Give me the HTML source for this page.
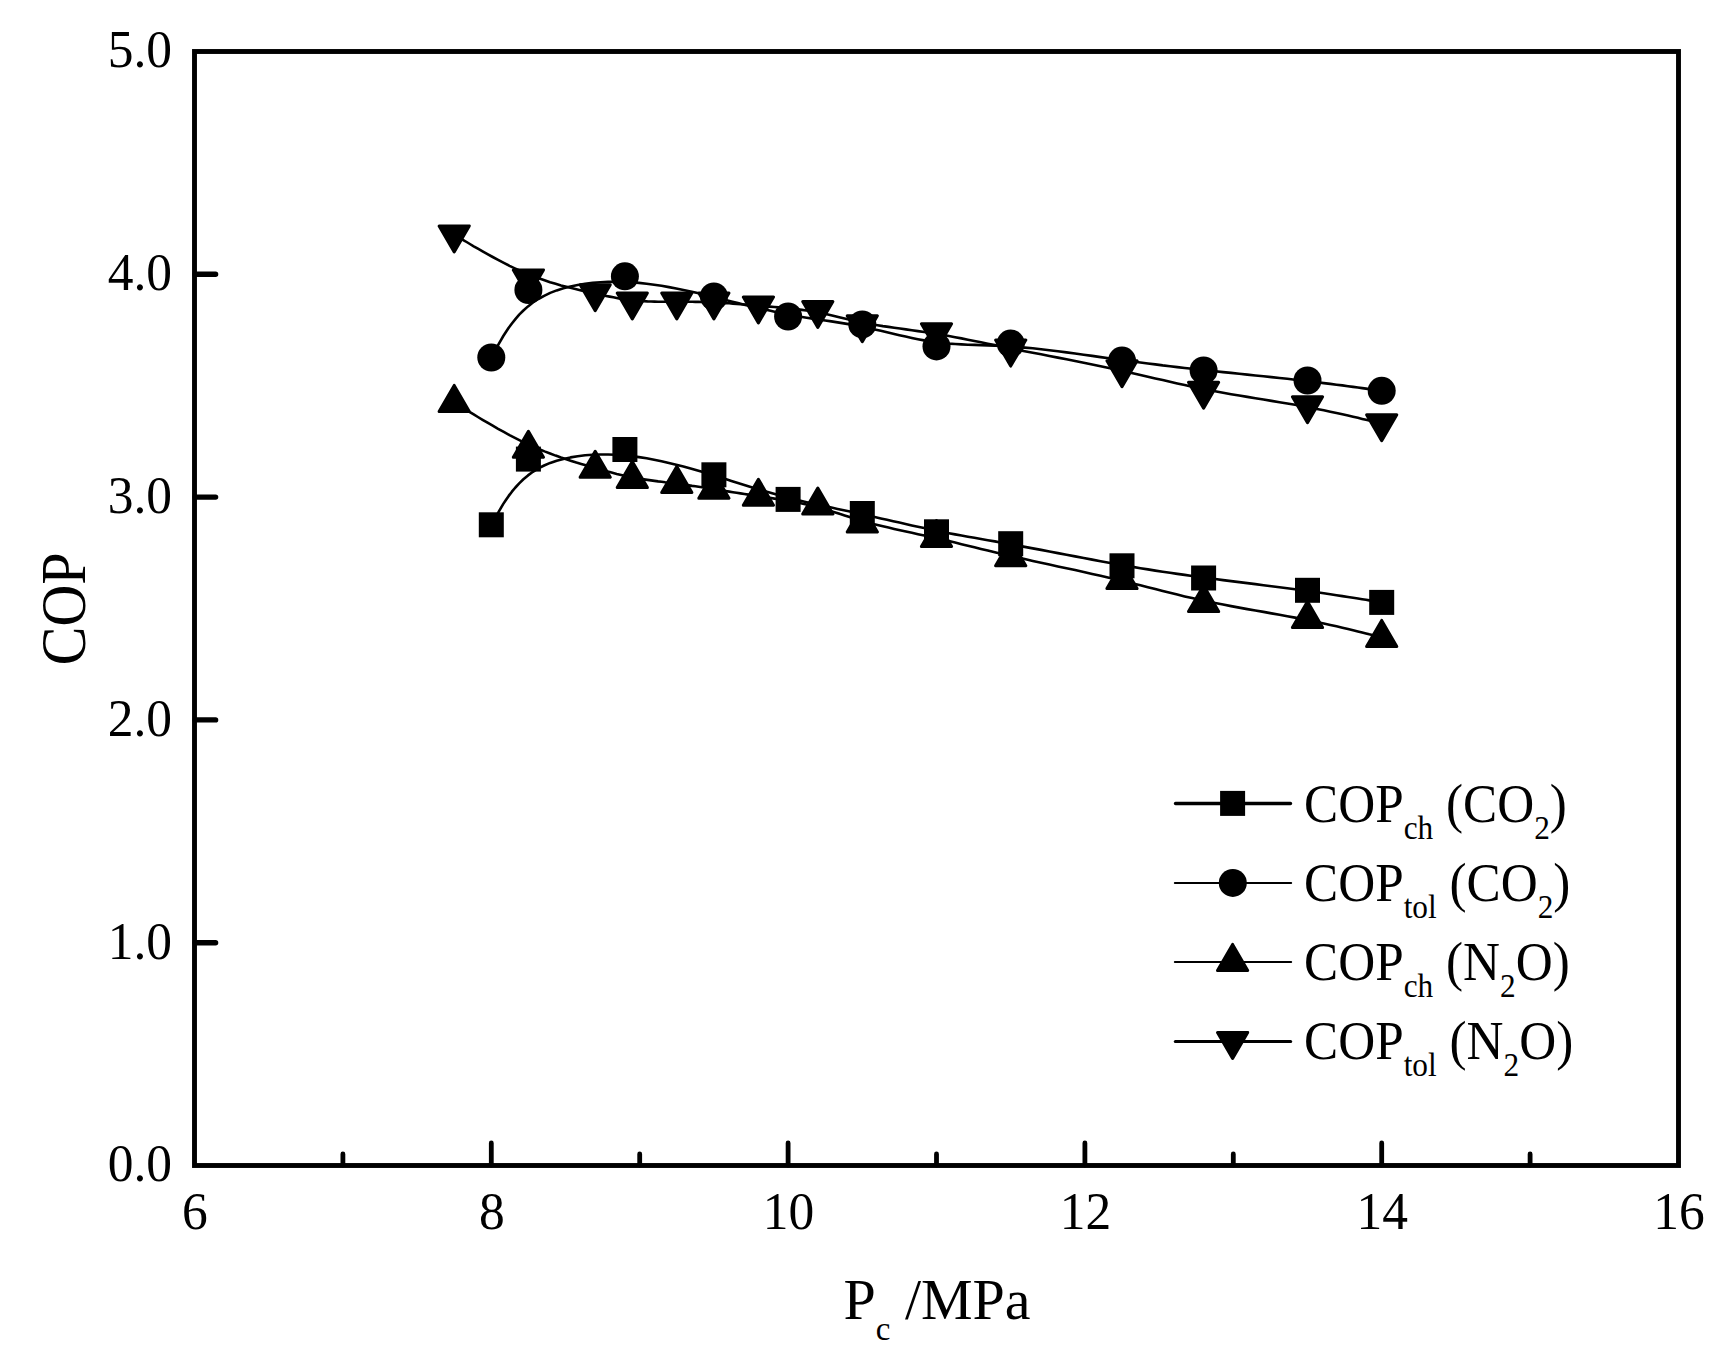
<!DOCTYPE html>
<html lang="en"><head><meta charset="utf-8"><title>COP vs Pc</title>
<style>html,body{margin:0;padding:0;background:#fff}body{width:1728px;height:1357px;overflow:hidden}svg{display:block}</style>
</head><body>
<svg width="1728" height="1357" viewBox="0 0 1728 1357">
<rect width="1728" height="1357" fill="#fff"/>
<rect x="194.50" y="51.50" width="1484.00" height="1114.00" fill="none" stroke="#000" stroke-width="4.90"/>
<path d="M342.90 1165.1 V1154.0 M491.30 1165.1 V1143.0 M639.70 1165.1 V1154.0 M788.10 1165.1 V1143.0 M936.50 1165.1 V1154.0 M1084.90 1165.1 V1143.0 M1233.30 1165.1 V1154.0 M1381.70 1165.1 V1143.0 M1530.10 1165.1 V1154.0" stroke="#000" stroke-width="4.8" stroke-linecap="round" fill="none"/>
<path d="M195.2 942.70 H215.6 M195.2 719.90 H215.6 M195.2 497.10 H215.6 M195.2 274.30 H215.6" stroke="#000" stroke-width="5.4" stroke-linecap="round" fill="none"/>
<g fill="none" stroke="#000" stroke-width="2.6" stroke-linejoin="round">
<path d="M491.3 524.8 L491.3 524.8 L491.3 524.7 L491.4 524.6 L491.5 524.4 L491.7 524.0 L492.1 523.4 L492.5 522.6 L493.1 521.6 L493.9 520.2 L494.9 518.5 L496.1 516.4 L497.5 513.8 L499.2 510.9 L501.1 507.6 L503.3 503.9 L505.9 500.0 L508.7 495.9 L511.9 491.7 L515.4 487.5 L519.2 483.4 L523.4 479.3 L528.0 475.4 L532.9 471.8 L538.3 468.4 L544.1 465.5 L550.2 462.9 L556.7 460.7 L563.4 458.9 L570.5 457.4 L577.7 456.2 L585.1 455.3 L592.7 454.8 L600.4 454.5 L608.1 454.5 L615.9 454.8 L623.6 455.3 L631.3 456.1 L639.0 457.1 L646.6 458.3 L654.1 459.7 L661.5 461.2 L668.9 462.9 L676.2 464.7 L683.4 466.5 L690.6 468.5 L697.6 470.5 L704.6 472.6 L711.4 474.7 L718.2 476.8 L724.8 478.8 L731.4 480.9 L737.9 482.9 L744.3 484.9 L750.7 486.9 L757.0 488.8 L763.3 490.7 L769.5 492.5 L775.7 494.3 L781.9 496.0 L788.1 497.6 L794.3 499.2 L800.5 500.7 L806.7 502.2 L812.8 503.6 L819.0 505.0 L825.2 506.3 L831.4 507.6 L837.6 508.9 L843.8 510.2 L849.9 511.5 L856.1 512.9 L862.3 514.2 L868.5 515.6 L874.7 517.0 L880.8 518.4 L887.0 519.8 L893.2 521.2 L899.4 522.6 L905.6 524.0 L911.8 525.4 L917.9 526.8 L924.1 528.1 L930.3 529.5 L936.5 530.7 L942.7 532.0 L948.9 533.2 L955.1 534.4 L961.5 535.5 L967.9 536.7 L974.4 537.8 L981.0 539.0 L987.8 540.2 L994.8 541.4 L1001.9 542.7 L1009.3 544.0 L1016.9 545.4 L1024.7 546.9 L1032.8 548.4 L1041.1 549.9 L1049.4 551.5 L1057.9 553.1 L1066.5 554.8 L1075.1 556.4 L1083.7 558.0 L1092.2 559.6 L1100.6 561.2 L1108.9 562.7 L1117.1 564.1 L1125.0 565.5 L1132.8 566.9 L1140.4 568.2 L1147.9 569.4 L1155.3 570.6 L1162.7 571.7 L1170.0 572.8 L1177.3 573.9 L1184.7 574.9 L1192.1 576.0 L1199.7 577.0 L1207.3 578.0 L1215.1 579.0 L1223.1 580.1 L1231.1 581.1 L1239.2 582.1 L1247.3 583.1 L1255.4 584.1 L1263.5 585.2 L1271.5 586.2 L1279.5 587.2 L1287.3 588.2 L1295.0 589.2 L1302.6 590.3 L1309.9 591.3 L1316.9 592.3 L1323.8 593.3 L1330.3 594.2 L1336.5 595.2 L1342.4 596.1 L1348.0 597.0 L1353.1 597.8 L1357.9 598.5 L1362.2 599.2 L1366.0 599.8 L1369.3 600.4 L1372.2 600.8 L1374.5 601.2 L1376.5 601.5 L1378.0 601.8 L1379.2 602.0 L1380.2 602.1 L1380.8 602.3 L1381.2 602.3 L1381.5 602.4 L1381.6 602.4 L1381.7 602.4 L1381.7 602.4"/>
<path d="M491.3 357.5 L491.3 357.5 L491.3 357.4 L491.4 357.3 L491.5 357.1 L491.7 356.7 L492.1 356.1 L492.5 355.3 L493.1 354.2 L493.9 352.8 L494.9 351.0 L496.1 348.8 L497.5 346.2 L499.2 343.2 L501.1 339.8 L503.3 336.0 L505.9 332.0 L508.7 327.8 L511.9 323.5 L515.4 319.1 L519.2 314.7 L523.4 310.5 L528.0 306.4 L532.9 302.5 L538.3 299.0 L544.1 295.8 L550.2 292.9 L556.7 290.4 L563.4 288.3 L570.5 286.5 L577.7 285.0 L585.1 283.8 L592.7 282.9 L600.4 282.2 L608.1 281.9 L615.9 281.8 L623.6 281.9 L631.3 282.3 L639.0 282.9 L646.6 283.7 L654.1 284.7 L661.5 285.8 L668.9 287.1 L676.2 288.5 L683.4 290.0 L690.6 291.5 L697.6 293.1 L704.6 294.8 L711.4 296.5 L718.2 298.1 L724.8 299.8 L731.4 301.5 L737.9 303.1 L744.3 304.7 L750.7 306.2 L757.0 307.8 L763.3 309.2 L769.5 310.6 L775.7 312.0 L781.9 313.3 L788.1 314.5 L794.3 315.6 L800.5 316.7 L806.7 317.7 L812.8 318.6 L819.0 319.6 L825.2 320.5 L831.4 321.4 L837.6 322.4 L843.8 323.4 L849.9 324.4 L856.1 325.6 L862.3 326.8 L868.5 328.0 L874.7 329.4 L880.8 330.8 L887.0 332.3 L893.2 333.7 L899.4 335.2 L905.6 336.6 L911.8 337.9 L917.9 339.2 L924.1 340.4 L930.3 341.4 L936.5 342.3 L942.7 343.0 L948.9 343.6 L955.1 344.0 L961.5 344.4 L967.9 344.7 L974.4 344.9 L981.0 345.1 L987.8 345.4 L994.8 345.6 L1001.9 346.0 L1009.3 346.4 L1016.9 346.9 L1024.7 347.6 L1032.8 348.3 L1041.1 349.2 L1049.4 350.2 L1057.9 351.3 L1066.5 352.4 L1075.1 353.5 L1083.7 354.7 L1092.2 355.9 L1100.6 357.1 L1108.9 358.3 L1117.1 359.4 L1125.0 360.5 L1132.8 361.5 L1140.4 362.5 L1147.9 363.5 L1155.3 364.4 L1162.7 365.4 L1170.0 366.2 L1177.3 367.1 L1184.7 368.0 L1192.1 368.8 L1199.7 369.6 L1207.3 370.4 L1215.1 371.3 L1223.1 372.1 L1231.1 372.9 L1239.2 373.8 L1247.3 374.6 L1255.4 375.5 L1263.5 376.3 L1271.5 377.1 L1279.5 378.0 L1287.3 378.8 L1295.0 379.7 L1302.6 380.5 L1309.9 381.4 L1316.9 382.2 L1323.8 383.1 L1330.3 383.9 L1336.5 384.7 L1342.4 385.4 L1348.0 386.2 L1353.1 386.9 L1357.9 387.5 L1362.2 388.1 L1366.0 388.6 L1369.3 389.1 L1372.2 389.5 L1374.5 389.8 L1376.5 390.1 L1378.0 390.3 L1379.2 390.5 L1380.2 390.6 L1380.8 390.7 L1381.2 390.7 L1381.5 390.8 L1381.6 390.8 L1381.7 390.8 L1381.7 390.8"/>
<path d="M454.2 402.4 L454.2 402.4 L454.3 402.4 L454.4 402.5 L454.7 402.7 L455.1 403.0 L455.7 403.4 L456.7 403.9 L457.9 404.7 L459.4 405.6 L461.4 406.8 L463.7 408.3 L466.6 410.0 L469.9 412.1 L473.7 414.4 L477.9 417.0 L482.6 419.8 L487.5 422.7 L492.7 425.7 L498.1 428.8 L503.8 431.9 L509.5 435.1 L515.4 438.1 L521.3 441.1 L527.2 443.9 L533.0 446.6 L538.8 449.0 L544.5 451.4 L550.1 453.5 L555.6 455.6 L561.0 457.5 L566.3 459.2 L571.4 460.9 L576.4 462.5 L581.2 463.9 L585.8 465.3 L590.2 466.6 L594.5 467.8 L598.5 469.0 L602.4 470.1 L606.1 471.2 L609.7 472.1 L613.3 473.1 L616.7 474.0 L620.1 474.8 L623.4 475.6 L626.8 476.3 L630.1 477.0 L633.5 477.7 L636.9 478.3 L640.4 478.9 L643.9 479.4 L647.4 479.9 L651.0 480.4 L654.5 480.9 L658.1 481.4 L661.6 481.8 L665.2 482.3 L668.7 482.7 L672.1 483.1 L675.6 483.6 L678.9 484.0 L682.3 484.5 L685.6 484.9 L688.8 485.4 L692.1 485.9 L695.4 486.3 L698.6 486.8 L701.9 487.3 L705.1 487.8 L708.4 488.3 L711.8 488.9 L715.1 489.4 L718.6 489.9 L722.0 490.5 L725.6 491.0 L729.2 491.6 L732.9 492.2 L736.6 492.8 L740.5 493.4 L744.4 494.0 L748.4 494.6 L752.4 495.2 L756.6 495.8 L760.9 496.5 L765.3 497.2 L769.7 497.8 L774.3 498.6 L778.8 499.3 L783.5 500.0 L788.1 500.8 L792.7 501.7 L797.4 502.5 L801.9 503.4 L806.5 504.4 L810.9 505.4 L815.3 506.5 L819.6 507.7 L823.8 508.9 L827.9 510.1 L832.1 511.4 L836.2 512.7 L840.3 514.1 L844.6 515.4 L848.8 516.8 L853.2 518.2 L857.7 519.6 L862.4 521.0 L867.2 522.4 L872.3 523.7 L877.5 525.0 L882.9 526.3 L888.5 527.6 L894.2 528.9 L900.0 530.2 L905.9 531.5 L911.9 532.8 L918.0 534.2 L924.2 535.5 L930.3 536.9 L936.5 538.3 L942.7 539.7 L948.9 541.1 L955.1 542.6 L961.5 544.2 L967.9 545.7 L974.4 547.3 L981.0 548.9 L987.8 550.5 L994.8 552.2 L1001.9 553.9 L1009.3 555.6 L1016.9 557.3 L1024.7 559.1 L1032.8 560.9 L1041.1 562.7 L1049.4 564.5 L1057.9 566.4 L1066.5 568.2 L1075.1 570.1 L1083.7 572.0 L1092.2 573.9 L1100.6 575.8 L1108.9 577.7 L1117.1 579.6 L1125.0 581.5 L1132.8 583.4 L1140.4 585.3 L1147.9 587.2 L1155.3 589.1 L1162.7 591.0 L1170.0 592.8 L1177.3 594.6 L1184.7 596.4 L1192.1 598.1 L1199.7 599.8 L1207.3 601.4 L1215.1 603.0 L1223.1 604.6 L1231.1 606.1 L1239.2 607.6 L1247.3 609.1 L1255.4 610.5 L1263.5 611.9 L1271.5 613.4 L1279.5 614.8 L1287.3 616.2 L1295.0 617.6 L1302.6 619.1 L1309.9 620.5 L1316.9 622.0 L1323.8 623.4 L1330.3 624.9 L1336.5 626.3 L1342.4 627.7 L1348.0 629.0 L1353.1 630.2 L1357.9 631.4 L1362.2 632.5 L1366.0 633.4 L1369.3 634.3 L1372.2 635.0 L1374.5 635.6 L1376.5 636.1 L1378.0 636.5 L1379.2 636.8 L1380.2 637.0 L1380.8 637.2 L1381.2 637.3 L1381.5 637.4 L1381.6 637.4 L1381.7 637.4 L1381.7 637.4"/>
<path d="M454.2 234.7 L454.2 234.7 L454.3 234.7 L454.4 234.8 L454.7 235.0 L455.1 235.2 L455.7 235.6 L456.7 236.2 L457.9 236.9 L459.4 237.8 L461.4 238.9 L463.7 240.3 L466.6 242.0 L469.9 244.0 L473.7 246.3 L477.9 248.7 L482.6 251.4 L487.5 254.1 L492.7 257.0 L498.1 259.9 L503.8 262.9 L509.5 265.8 L515.4 268.6 L521.3 271.3 L527.2 273.8 L533.0 276.2 L538.8 278.3 L544.5 280.3 L550.1 282.2 L555.6 283.8 L561.0 285.4 L566.3 286.8 L571.4 288.1 L576.4 289.3 L581.2 290.4 L585.8 291.4 L590.2 292.4 L594.5 293.4 L598.5 294.2 L602.4 295.1 L606.1 295.9 L609.7 296.6 L613.3 297.3 L616.7 298.0 L620.1 298.6 L623.4 299.1 L626.8 299.6 L630.1 300.0 L633.5 300.4 L636.9 300.7 L640.4 301.0 L643.9 301.2 L647.4 301.4 L651.0 301.5 L654.5 301.6 L658.1 301.7 L661.6 301.7 L665.2 301.8 L668.7 301.8 L672.1 301.8 L675.6 301.8 L678.9 301.8 L682.3 301.8 L685.6 301.8 L688.8 301.8 L692.1 301.8 L695.4 301.9 L698.6 301.9 L701.9 302.0 L705.1 302.1 L708.4 302.2 L711.8 302.3 L715.1 302.5 L718.6 302.6 L722.0 302.9 L725.6 303.1 L729.2 303.3 L732.9 303.6 L736.6 303.9 L740.5 304.2 L744.4 304.5 L748.4 304.8 L752.4 305.2 L756.6 305.5 L760.9 305.9 L765.3 306.2 L769.7 306.6 L774.3 307.0 L778.8 307.4 L783.5 307.8 L788.1 308.3 L792.7 308.8 L797.4 309.3 L801.9 309.9 L806.5 310.5 L810.9 311.2 L815.3 311.9 L819.6 312.7 L823.8 313.6 L827.9 314.5 L832.1 315.5 L836.2 316.5 L840.3 317.5 L844.6 318.5 L848.8 319.5 L853.2 320.5 L857.7 321.5 L862.4 322.5 L867.2 323.5 L872.3 324.4 L877.5 325.2 L882.9 326.1 L888.5 326.9 L894.2 327.7 L900.0 328.5 L905.9 329.4 L911.9 330.2 L918.0 331.1 L924.2 332.0 L930.3 332.9 L936.5 333.9 L942.7 334.9 L948.9 336.0 L955.1 337.2 L961.5 338.4 L967.9 339.7 L974.4 341.0 L981.0 342.3 L987.8 343.7 L994.8 345.1 L1001.9 346.6 L1009.3 348.1 L1016.9 349.6 L1024.7 351.2 L1032.8 352.7 L1041.1 354.3 L1049.4 356.0 L1057.9 357.6 L1066.5 359.3 L1075.1 361.0 L1083.7 362.7 L1092.2 364.4 L1100.6 366.2 L1108.9 367.9 L1117.1 369.6 L1125.0 371.4 L1132.8 373.2 L1140.4 374.9 L1147.9 376.7 L1155.3 378.4 L1162.7 380.1 L1170.0 381.8 L1177.3 383.5 L1184.7 385.1 L1192.1 386.8 L1199.7 388.3 L1207.3 389.8 L1215.1 391.3 L1223.1 392.8 L1231.1 394.2 L1239.2 395.5 L1247.3 396.9 L1255.4 398.2 L1263.5 399.5 L1271.5 400.9 L1279.5 402.2 L1287.3 403.5 L1295.0 404.8 L1302.6 406.2 L1309.9 407.5 L1316.9 408.9 L1323.8 410.3 L1330.3 411.7 L1336.5 413.0 L1342.4 414.3 L1348.0 415.5 L1353.1 416.7 L1357.9 417.8 L1362.2 418.9 L1366.0 419.8 L1369.3 420.6 L1372.2 421.3 L1374.5 421.9 L1376.5 422.3 L1378.0 422.7 L1379.2 423.0 L1380.2 423.2 L1380.8 423.4 L1381.2 423.5 L1381.5 423.6 L1381.6 423.6 L1381.7 423.6 L1381.7 423.6"/>
</g>
<g fill="#000">
<rect x="478.8" y="512.3" width="25.0" height="25.0"/>
<rect x="515.9" y="446.6" width="25.0" height="25.0"/>
<rect x="612.4" y="437.0" width="25.0" height="25.0"/>
<rect x="701.4" y="462.3" width="25.0" height="25.0"/>
<rect x="775.6" y="486.9" width="25.0" height="25.0"/>
<rect x="849.8" y="501.0" width="25.0" height="25.0"/>
<rect x="924.0" y="519.3" width="25.0" height="25.0"/>
<rect x="998.2" y="531.2" width="25.0" height="25.0"/>
<rect x="1109.5" y="553.3" width="25.0" height="25.0"/>
<rect x="1191.1" y="565.5" width="25.0" height="25.0"/>
<rect x="1295.0" y="577.8" width="25.0" height="25.0"/>
<rect x="1369.2" y="589.9" width="25.0" height="25.0"/>
<circle cx="491.3" cy="357.5" r="14.0"/>
<circle cx="528.4" cy="290.0" r="14.0"/>
<circle cx="624.9" cy="276.3" r="14.0"/>
<circle cx="713.9" cy="296.5" r="14.0"/>
<circle cx="788.1" cy="316.5" r="14.0"/>
<circle cx="862.3" cy="324.4" r="14.0"/>
<circle cx="936.5" cy="346.4" r="14.0"/>
<circle cx="1010.7" cy="343.6" r="14.0"/>
<circle cx="1122.0" cy="360.6" r="14.0"/>
<circle cx="1203.6" cy="370.4" r="14.0"/>
<circle cx="1307.5" cy="380.5" r="14.0"/>
<circle cx="1381.7" cy="390.8" r="14.0"/>
</g>
<g fill="#000" stroke="#000" stroke-width="3.0" stroke-linejoin="round">
<path d="M454.2 385.4 L469.3 411.4 L439.1 411.4 Z"/>
<path d="M528.4 431.2 L543.5 457.2 L513.3 457.2 Z"/>
<path d="M595.2 451.2 L610.3 477.2 L580.1 477.2 Z"/>
<path d="M632.3 461.6 L647.4 487.6 L617.2 487.6 Z"/>
<path d="M676.8 466.4 L691.9 492.4 L661.7 492.4 Z"/>
<path d="M713.9 472.2 L729.0 498.2 L698.8 498.2 Z"/>
<path d="M758.4 479.2 L773.5 505.2 L743.3 505.2 Z"/>
<path d="M817.8 488.0 L832.9 514.0 L802.7 514.0 Z"/>
<path d="M862.3 505.9 L877.4 531.9 L847.2 531.9 Z"/>
<path d="M936.5 520.5 L951.6 546.5 L921.4 546.5 Z"/>
<path d="M1010.7 539.7 L1025.8 565.7 L995.6 565.7 Z"/>
<path d="M1122.0 562.6 L1137.1 588.6 L1106.9 588.6 Z"/>
<path d="M1203.6 585.6 L1218.7 611.6 L1188.5 611.6 Z"/>
<path d="M1307.5 601.6 L1322.6 627.6 L1292.4 627.6 Z"/>
<path d="M1381.7 620.4 L1396.8 646.4 L1366.6 646.4 Z"/>
<path d="M454.2 251.9 L469.3 225.9 L439.1 225.9 Z"/>
<path d="M528.4 295.9 L543.5 269.9 L513.3 269.9 Z"/>
<path d="M595.2 310.7 L610.3 284.7 L580.1 284.7 Z"/>
<path d="M632.3 319.0 L647.4 293.0 L617.2 293.0 Z"/>
<path d="M676.8 319.0 L691.9 293.0 L661.7 293.0 Z"/>
<path d="M713.9 319.0 L729.0 293.0 L698.8 293.0 Z"/>
<path d="M758.4 323.0 L773.5 297.0 L743.3 297.0 Z"/>
<path d="M817.8 327.5 L832.9 301.5 L802.7 301.5 Z"/>
<path d="M862.3 341.7 L877.4 315.7 L847.2 315.7 Z"/>
<path d="M936.5 349.7 L951.6 323.7 L921.4 323.7 Z"/>
<path d="M1010.7 366.1 L1025.8 340.1 L995.6 340.1 Z"/>
<path d="M1122.0 386.7 L1137.1 360.7 L1106.9 360.7 Z"/>
<path d="M1203.6 408.2 L1218.7 382.2 L1188.5 382.2 Z"/>
<path d="M1307.5 422.8 L1322.6 396.8 L1292.4 396.8 Z"/>
<path d="M1381.7 440.8 L1396.8 414.8 L1366.6 414.8 Z"/>
</g>
<g stroke="#000" stroke-linecap="round">
<path d="M1175.5 803.5 H1290.5" stroke-width="3.3"/>
<path d="M1174.9 883.0 H1291.1" stroke-width="2.2"/>
<path d="M1174.9 962.0 H1291.1" stroke-width="2.2"/>
<path d="M1175.4 1041.5 H1290.6" stroke-width="3.2"/>
</g>
<g fill="#000"><rect x="1220.1" y="790.9" width="25.0" height="25.0"/><circle cx="1232.8" cy="882.9" r="14.0"/></g>
<g fill="#000" stroke="#000" stroke-width="3.0" stroke-linejoin="round"><path d="M1232.6 944.4 L1247.7 970.4 L1217.5 970.4 Z"/><path d="M1232.6 1058.4 L1247.7 1032.4 L1217.5 1032.4 Z"/></g>
<g font-family="'Liberation Serif', 'Times New Roman', serif" font-size="51.5" fill="#000">
<text font-size="51.2" transform="translate(1304.1 821.5) scale(1 1.065)">COP<tspan font-size="31.3" dy="16.0">ch</tspan><tspan dy="-16.0"> (CO</tspan><tspan font-size="31.3" dy="16.0">2</tspan><tspan dy="-16.0">)</tspan></text>
<text font-size="51.2" transform="translate(1304.1 900.5) scale(1 1.065)">COP<tspan font-size="31.3" dy="16.0">tol</tspan><tspan dy="-16.0"> (CO</tspan><tspan font-size="31.3" dy="16.0">2</tspan><tspan dy="-16.0">)</tspan></text>
<text font-size="51.2" transform="translate(1304.1 979.5) scale(1 1.065)">COP<tspan font-size="31.3" dy="16.0">ch</tspan><tspan dy="-16.0"> (N</tspan><tspan font-size="31.3" dy="16.0">2</tspan><tspan dy="-16.0">O)</tspan></text>
<text font-size="51.2" transform="translate(1304.1 1059.0) scale(1 1.065)">COP<tspan font-size="31.3" dy="16.0">tol</tspan><tspan dy="-16.0"> (N</tspan><tspan font-size="31.3" dy="16.0">2</tspan><tspan dy="-16.0">O)</tspan></text>
<text transform="translate(172.0 1181.3) scale(1 1.012)" text-anchor="end">0.0</text>
<text transform="translate(172.0 958.5) scale(1 1.012)" text-anchor="end">1.0</text>
<text transform="translate(172.0 735.7) scale(1 1.012)" text-anchor="end">2.0</text>
<text transform="translate(172.0 512.9) scale(1 1.012)" text-anchor="end">3.0</text>
<text transform="translate(172.0 290.1) scale(1 1.012)" text-anchor="end">4.0</text>
<text transform="translate(172.0 67.3) scale(1 1.012)" text-anchor="end">5.0</text>
<text transform="translate(195.0 1228.8) scale(1 1.012)" text-anchor="middle">6</text>
<text transform="translate(491.8 1228.8) scale(1 1.012)" text-anchor="middle">8</text>
<text transform="translate(788.6 1228.8) scale(1 1.012)" text-anchor="middle">10</text>
<text transform="translate(1085.4 1228.8) scale(1 1.012)" text-anchor="middle">12</text>
<text transform="translate(1382.2 1228.8) scale(1 1.012)" text-anchor="middle">14</text>
<text transform="translate(1679.0 1228.8) scale(1 1.012)" text-anchor="middle">16</text>
</g>
<g font-family="'Liberation Serif', 'Times New Roman', serif" font-size="58" fill="#000">
<text x="843.5" y="1319.2">P<tspan font-size="33" dy="21">c</tspan><tspan dy="-21"> /MPa</tspan></text>
<text transform="translate(84.6 608.9) rotate(-90) scale(1.0 1.08)" text-anchor="middle">COP</text>
</g>
</svg>
</body></html>
